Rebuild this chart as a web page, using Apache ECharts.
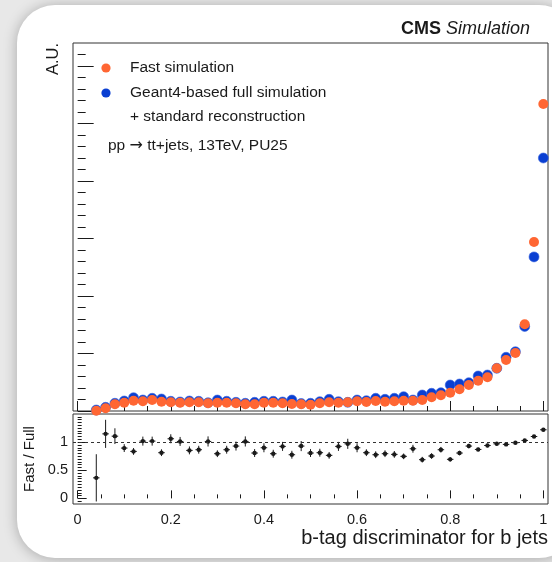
<!DOCTYPE html>
<html>
<head>
<meta charset="utf-8">
<script src="https://cdn.jsdelivr.net/npm/echarts@6/dist/echarts.min.js"></script>
<style>
  html, body { margin: 0; padding: 0; background: #e8e8e8; }
  #chart { width: 552px; height: 562px; }
</style>
</head>
<body>
<div id="chart"></div>
<script>
// bin centres of the b-tag discriminator
var binCenters = [0.04, 0.06, 0.08, 0.10, 0.12, 0.14, 0.16, 0.18, 0.20, 0.22,
  0.24, 0.26, 0.28, 0.30, 0.32, 0.34, 0.36, 0.38, 0.40, 0.42,
  0.44, 0.46, 0.48, 0.50, 0.52, 0.54, 0.56, 0.58, 0.60, 0.62,
  0.64, 0.66, 0.68, 0.70, 0.72, 0.74, 0.76, 0.78, 0.80, 0.82,
  0.84, 0.86, 0.88, 0.90, 0.92, 0.94, 0.96, 0.98, 1.00];

// fast simulation (orange), arbitrary units
var fastSim = [0.005, 0.047, 0.117, 0.144, 0.179, 0.169, 0.191, 0.162, 0.151, 0.144,
  0.151, 0.151, 0.134, 0.144, 0.144, 0.134, 0.117, 0.117, 0.144, 0.144,
  0.134, 0.122, 0.117, 0.110, 0.134, 0.151, 0.144, 0.151, 0.169, 0.157,
  0.174, 0.162, 0.169, 0.179, 0.179, 0.191, 0.238, 0.273, 0.318, 0.377,
  0.452, 0.527, 0.586, 0.743, 0.887, 1.01, 1.51, 2.94, 5.34];

// Geant4 full simulation (blue)
var fullSim = [0.017, 0.064, 0.134, 0.174, 0.231, 0.191, 0.221, 0.209, 0.169, 0.157,
  0.174, 0.169, 0.144, 0.191, 0.169, 0.151, 0.134, 0.151, 0.169, 0.169,
  0.157, 0.191, 0.130, 0.134, 0.162, 0.203, 0.162, 0.151, 0.191, 0.179,
  0.221, 0.203, 0.221, 0.249, 0.191, 0.278, 0.308, 0.318, 0.452, 0.470,
  0.492, 0.609, 0.626, 0.743, 0.934, 1.03, 1.47, 2.68, 4.40];

// Fast / Full ratio and its error
var ratio = [0.365, 1.147, 1.106, 0.894, 0.835, 1.018, 1.018, 0.812, 1.06, 1.012,
  0.853, 0.865, 1.012, 0.794, 0.865, 0.93, 1.012, 0.806, 0.9, 0.794,
  0.924, 0.776, 0.93, 0.806, 0.812, 0.765, 0.924, 0.97, 0.9, 0.812,
  0.776, 0.794, 0.782, 0.747, 0.882, 0.688, 0.753, 0.865, 0.694, 0.806,
  0.93, 0.87, 0.94, 0.97, 0.96, 0.99, 1.03, 1.1, 1.22];
var ratioErr = [0.42, 0.25, 0.14, 0.07, 0.06, 0.08, 0.08, 0.06, 0.08, 0.08,
  0.07, 0.07, 0.09, 0.06, 0.07, 0.08, 0.09, 0.07, 0.08, 0.07,
  0.08, 0.07, 0.09, 0.07, 0.07, 0.06, 0.08, 0.09, 0.08, 0.06,
  0.06, 0.06, 0.06, 0.05, 0.07, 0.05, 0.05, 0.05, 0.04, 0.04,
  0.04, 0.03, 0.03, 0.03, 0.025, 0.02, 0.02, 0.02, 0.015];

// tick positions
var xMajor = [0, 0.2, 0.4, 0.6, 0.8, 1];
var xMinor = [0.05, 0.1, 0.15, 0.25, 0.3, 0.35, 0.45, 0.5, 0.55, 0.65, 0.7, 0.75, 0.85, 0.9, 0.95];
var auMajor = [0, 1, 2, 3, 4, 5, 6];
var auMinor = [0.2, 0.4, 0.6, 0.8, 1.2, 1.4, 1.6, 1.8, 2.2, 2.4, 2.6, 2.8, 3.2, 3.4, 3.6, 3.8,
  4.2, 4.4, 4.6, 4.8, 5.2, 5.4, 5.6, 5.8, 6.2];
var ratioMajor = [0, 0.5, 1];
var ratioMinor = [-0.05, 0.05, 0.1, 0.15, 0.2, 0.25, 0.3, 0.35, 0.4, 0.45, 0.55, 0.6, 0.65, 0.7,
  0.75, 0.8, 0.85, 0.9, 0.95, 1.05, 1.1, 1.15, 1.2, 1.25, 1.3, 1.35, 1.4, 1.45];

var FONT = "'Liberation Sans', Arial, Helvetica, sans-serif";
var ORANGE = "#ff6633";
var BLUE = "#0a3fd2";
var INK = "#1a1a1a";
var binHalf = 0.007;

var chart = echarts.init(document.getElementById("chart"), null, { renderer: "canvas" });

function pairs(ys) {
  return binCenters.map(function (x, i) { return [x, ys[i]]; });
}

function xAxisDef(grid, ticks, len, labels) {
  return {
    gridIndex: grid, type: "value", position: "bottom", min: -0.01, max: 1.01,
    axisLine: { show: false }, splitLine: { show: false },
    axisTick: { show: true, inside: true, length: len, customValues: ticks, lineStyle: { color: INK, width: 1 } },
    axisLabel: labels ? { show: true, customValues: ticks, margin: 8, color: INK, fontSize: 14.5, fontFamily: FONT } : { show: false }
  };
}

function yAxisDef(grid, min, max, ticks, len, labels) {
  return {
    gridIndex: grid, type: "value", position: "left", min: min, max: max,
    axisLine: { show: false }, splitLine: { show: false },
    axisTick: { show: true, inside: true, length: len, customValues: ticks, lineStyle: { color: INK, width: 1 } },
    axisLabel: labels ? { show: true, customValues: ticks, margin: 5, color: INK, fontSize: 14.5, fontFamily: FONT } : { show: false }
  };
}

// legend drawn by hand so the dots and text sit where the slide has them
function legendEntry(y, color, label) {
  return [
    { type: "circle", shape: { cx: 106, cy: y, r: 4.6 }, style: { fill: color } },
    { type: "text", x: 130, y: y, style: { text: label, textVerticalAlign: "middle", fill: INK, font: "15.5px " + FONT } }
  ];
}

var option = {
  animation: false,
  backgroundColor: "transparent",
  textStyle: { fontFamily: FONT },
  graphic: [
    {
      // white slide card
      type: "rect", z: -10, silent: true,
      shape: { x: 17, y: 5, width: 560, height: 553, r: 38 },
      style: { fill: "#ffffff", shadowBlur: 14, shadowColor: "rgba(0,0,0,0.28)", shadowOffsetX: 0, shadowOffsetY: 1 }
    },
    {
      type: "text", x: 530, y: 29,
      style: {
        text: "{b|CMS} {i|Simulation}", textAlign: "right", textVerticalAlign: "middle",
        fill: INK, font: "18px " + FONT,
        rich: {
          b: { fontWeight: "bold", fontSize: 18, fontFamily: FONT, fill: INK },
          i: { fontStyle: "italic", fontSize: 18, fontFamily: FONT, fill: INK }
        }
      }
    },
    {
      type: "text", x: 53, y: 43, rotation: Math.PI / 2,
      style: { text: "A.U.", textAlign: "right", textVerticalAlign: "middle", fill: INK, font: "16.5px " + FONT }
    }
  ].concat(
    legendEntry(68, ORANGE, "Fast simulation"),
    legendEntry(93, BLUE, "Geant4-based full simulation"),
    [
      {
        type: "text", x: 130, y: 117,
        style: { text: "+ standard reconstruction", textVerticalAlign: "middle", fill: INK, font: "15.5px " + FONT }
      },
      {
        type: "text", x: 108, y: 146,
        style: {
          text: "pp {a|\u2192} tt+jets, 13TeV, PU25", textVerticalAlign: "middle", fill: INK, font: "15.5px " + FONT,
          rich: { a: { fontFamily: "'DejaVu Sans', sans-serif", fontSize: 16, fill: INK } }
        }
      },
      {
        type: "text", x: 548, y: 538,
        style: { text: "b-tag discriminator for b jets", textAlign: "right", textVerticalAlign: "middle", fill: INK, font: "20px " + FONT }
      }
    ]
  ),
  grid: [
    { left: 73, top: 43, width: 475, height: 368, show: true, borderColor: "#333", borderWidth: 1, backgroundColor: "transparent" },
    { left: 73, top: 414, width: 475, height: 90, show: true, borderColor: "#333", borderWidth: 1, backgroundColor: "transparent" }
  ],
  xAxis: [
    xAxisDef(0, xMajor, 10, false),
    xAxisDef(0, xMinor, 5, false),
    xAxisDef(1, xMajor, 8, true),
    xAxisDef(1, xMinor, 4, false)
  ],
  yAxis: [
    yAxisDef(0, 0, 6.4, auMajor, 16, false),
    yAxisDef(0, 0, 6.4, auMinor, 8, false),
    Object.assign(yAxisDef(1, -0.1, 1.5, ratioMajor, 9, true), {
      name: "Fast / Full", nameLocation: "middle", nameRotate: 90, nameGap: 32,
      nameTextStyle: { fontSize: 15, color: INK, fontFamily: FONT }
    }),
    yAxisDef(1, -0.1, 1.5, ratioMinor, 4, false)
  ],
  series: [
    {
      name: "Geant4-based full simulation", type: "scatter",
      xAxisIndex: 0, yAxisIndex: 0, symbol: "circle", symbolSize: 10,
      itemStyle: { color: BLUE, borderColor: "#3a66e0", borderWidth: 0.6, opacity: 1 },
      data: pairs(fullSim)
    },
    {
      name: "Fast simulation", type: "scatter",
      xAxisIndex: 0, yAxisIndex: 0, symbol: "circle", symbolSize: 10,
      itemStyle: { color: ORANGE, opacity: 1 },
      data: pairs(fastSim)
    },
    {
      name: "ratio", type: "custom",
      xAxisIndex: 2, yAxisIndex: 2,
      data: binCenters.map(function (x, i) { return [x, ratio[i], ratioErr[i]]; }),
      renderItem: function (params, api) {
        var x = api.value(0), y = api.value(1), e = api.value(2);
        var c = api.coord([x, y]);
        var hi = api.coord([x, y + e]);
        var lo = api.coord([x, Math.max(y - e, -0.1)]);
        var l = api.coord([x - binHalf, y]);
        var r = api.coord([x + binHalf, y]);
        return {
          type: "group",
          children: [
            { type: "line", shape: { x1: c[0], y1: hi[1], x2: c[0], y2: lo[1] }, style: { stroke: INK, lineWidth: 1 } },
            { type: "line", shape: { x1: l[0], y1: c[1], x2: r[0], y2: c[1] }, style: { stroke: INK, lineWidth: 1 } },
            { type: "circle", shape: { cx: c[0], cy: c[1], r: 2.2 }, style: { fill: INK } }
          ]
        };
      },
      markLine: {
        silent: true, symbol: "none",
        label: { show: false },
        lineStyle: { type: [3, 3], color: "#333", width: 1 },
        data: [{ yAxis: 1 }]
      },
      z: 3
    }
  ]
};

chart.setOption(option);
</script>
</body>
</html>
